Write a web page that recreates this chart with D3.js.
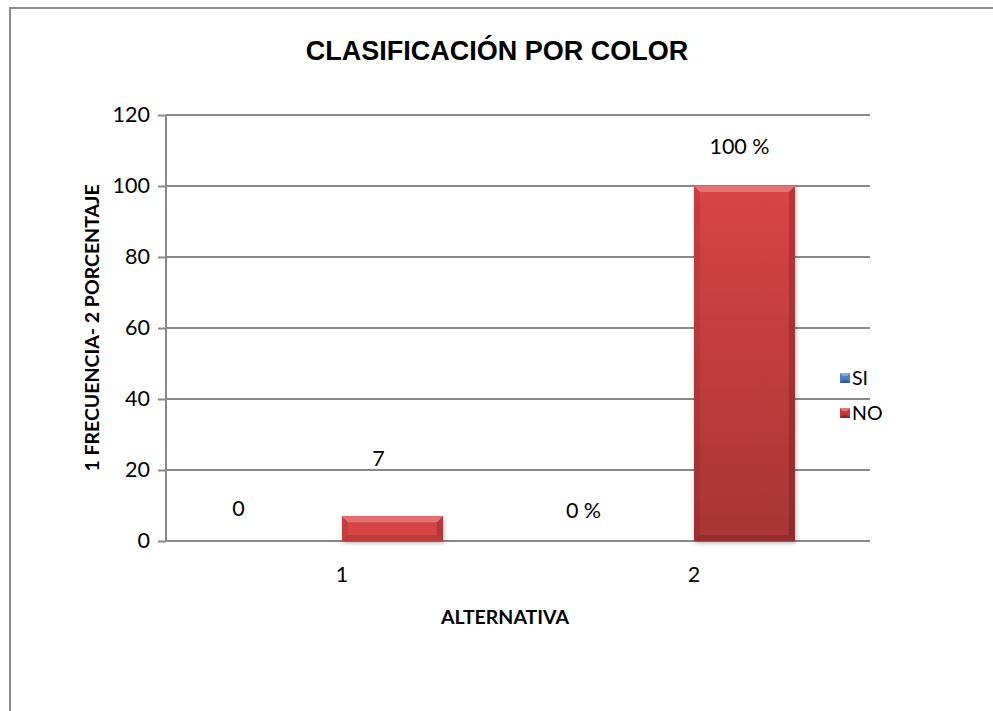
<!DOCTYPE html>
<html>
<head>
<meta charset="utf-8">
<script src="https://cdn.jsdelivr.net/npm/d3@7"></script>
<style>
  html, body { margin: 0; padding: 0; background: #fff; }
  svg { display: block; }
</style>
</head>
<body>
<svg id="chart" width="993" height="711"></svg>
<script>
// ---- data ----
const title = "CLASIFICACIÓN POR COLOR";
const categories = ["1", "2"];
const seriesNames = ["SI", "NO"];
const siValues = [0, 0];
const noValues = [7, 100];
const siLabels = ["0", "0 %"];
const noLabels = ["7", "100 %"];
const yTicks = [0, 20, 40, 60, 80, 100, 120];
const yTitle = "1 FRECUENCIA- 2 PORCENTAJE";
const xTitle = "ALTERNATIVA";

// ---- layout ----
const W = 993, H = 711;
const plot = { left: 166, right: 870, top: 115, bottom: 541 };
const labelFont = "Lato, 'Open Sans', sans-serif";

const svg = d3.select("#chart");
const defs = svg.append("defs");

// gradients
seriesNames.forEach(s => {
  const g = defs.append("linearGradient").attr("id", "grad-" + s)
    .attr("x1", 0).attr("y1", 0).attr("x2", 0).attr("y2", 1);
  g.append("stop").attr("offset", "0%").attr("stop-color", s === "NO" ? "#d94444" : "#5b8fd0");
  g.append("stop").attr("offset", "100%").attr("stop-color", s === "NO" ? "#a83535" : "#3f6ea8");
});
const shadow = defs.append("filter").attr("id", "shadow").attr("x", "-10%").attr("y", "-10%").attr("width", "130%").attr("height", "130%");
shadow.append("feDropShadow").attr("dx", 1).attr("dy", 2).attr("stdDeviation", 2).attr("flood-color", "#000").attr("flood-opacity", 0.3);

// outer border
svg.append("rect").attr("x", 10).attr("y", 8).attr("width", W + 20).attr("height", H + 20)
  .attr("fill", "none").attr("stroke", "#8a8a8a").attr("stroke-width", 2);

// title
svg.append("text").attr("x", 497).attr("y", 60).attr("text-anchor", "middle")
  .attr("font-family", "'Liberation Sans', Arial, sans-serif").attr("font-weight", "bold")
  .attr("font-size", 27).attr("fill", "#000").text(title);

// scales
const y = d3.scaleLinear().domain([0, 120]).range([plot.bottom, plot.top]);
const x0 = d3.scaleBand().domain(categories).range([plot.left, plot.right]).padding(0);
const x1 = d3.scaleBand().domain(seriesNames).range([0, x0.bandwidth()]).paddingInner(0).paddingOuter(0.743);

// gridlines + y axis
const yAxis = d3.axisLeft(y).tickValues(yTicks).tickSize(8).tickPadding(8);
const yg = svg.append("g").attr("transform", `translate(${plot.left},0)`).call(yAxis);
yg.select(".domain").remove();
yg.selectAll(".tick line").attr("stroke", "#898989").attr("stroke-width", 2);
yg.selectAll(".tick text").attr("font-family", labelFont).attr("font-size", 21.5).attr("fill", "#000");

svg.append("g").selectAll("line").data(yTicks).join("line")
  .attr("x1", plot.left).attr("x2", plot.right)
  .attr("y1", d => y(d)).attr("y2", d => y(d))
  .attr("stroke", "#898989").attr("stroke-width", 2);

svg.append("line").attr("x1", plot.left).attr("x2", plot.left)
  .attr("y1", plot.top).attr("y2", plot.bottom)
  .attr("stroke", "#898989").attr("stroke-width", 2);

// x axis labels
const xAxis = d3.axisBottom(x0).tickSize(0).tickPadding(26);
const xg = svg.append("g").attr("transform", `translate(0,${plot.bottom})`).call(xAxis);
xg.select(".domain").remove();
xg.selectAll(".tick text").attr("font-family", labelFont).attr("font-size", 21.5).attr("fill", "#000");

// bars with bevel
const rows = categories.map((c, i) => ({ cat: c, SI: siValues[i], NO: noValues[i], SIl: siLabels[i], NOl: noLabels[i] }));
const bevel = 6;
function drawBar(g, s, xPos, w, v) {
  const top = y(v), bot = y(0), h = bot - top;
  if (h <= 0.5) return;
  const b = Math.min(bevel, h / 3, w / 2);
  const gg = g.append("g");
  gg.append("rect").attr("x", xPos).attr("y", top).attr("width", w).attr("height", h)
    .attr("fill", `url(#grad-${s})`).attr("filter", "url(#shadow)");
  if (h < 60) {
    gg.append("rect").attr("x", xPos).attr("y", top).attr("width", w).attr("height", h)
      .attr("fill", "#d64545");
  }
  // top bevel (light)
  gg.append("path").attr("d", `M${xPos},${top} L${xPos + w},${top} L${xPos + w - b},${top + b} L${xPos + b},${top + b} Z`)
    .attr("fill", "#ffffff").attr("opacity", 0.25);
  // left bevel
  gg.append("path").attr("d", `M${xPos},${top} L${xPos + b},${top + b} L${xPos + b},${bot - b} L${xPos},${bot} Z`)
    .attr("fill", "#000").attr("opacity", 0.08);
  // right bevel
  gg.append("path").attr("d", `M${xPos + w},${top} L${xPos + w - b},${top + b} L${xPos + w - b},${bot - b} L${xPos + w},${bot} Z`)
    .attr("fill", "#000").attr("opacity", 0.16);
  // bottom bevel
  gg.append("path").attr("d", `M${xPos},${bot} L${xPos + b},${bot - b} L${xPos + w - b},${bot - b} L${xPos + w},${bot} Z`)
    .attr("fill", "#000").attr("opacity", 0.12);
}
const barsG = svg.append("g");
rows.forEach(r => {
  seriesNames.forEach(s => {
    drawBar(barsG, s, x0(r.cat) + x1(s), x1.bandwidth(), r[s]);
  });
});

// data labels (manually offset like the original)
const labelOffsets = { SI: [[-53, 25], [-60, 23]], NO: [[-14, 50], [-5, 32]] };
const lblG = svg.append("g").attr("font-family", labelFont).attr("font-size", 21.5).attr("fill", "#000").attr("text-anchor", "middle");
rows.forEach((r, i) => {
  seriesNames.forEach(s => {
    const cx = x0(r.cat) + x1(s) + x1.bandwidth() / 2 + labelOffsets[s][i][0];
    const cy = y(r[s]) - labelOffsets[s][i][1];
    lblG.append("text").attr("x", cx).attr("y", cy).text(r[s + "l"]);
  });
});

// axis titles
svg.append("text").attr("transform", `translate(99,328) rotate(-90)`).attr("text-anchor", "middle")
  .attr("font-family", labelFont).attr("font-weight", "bold").attr("font-size", 19.5).attr("fill", "#000").text(yTitle);
svg.append("text").attr("x", 505).attr("y", 624).attr("text-anchor", "middle")
  .attr("font-family", labelFont).attr("font-weight", "bold").attr("font-size", 19.5).attr("fill", "#000").text(xTitle);

// legend
const legend = svg.append("g").attr("transform", "translate(840,370)");
seriesNames.forEach((s, i) => {
  const g = legend.append("g").attr("transform", `translate(0,${i * 35})`);
  g.append("rect").attr("x", 0).attr("y", 3).attr("width", 10).attr("height", 10).attr("fill", `url(#grad-${s})`);
  g.append("path").attr("d", "M0,3 L10,3 L7,6 L3,6 Z").attr("fill", "#fff").attr("opacity", 0.3);
  g.append("path").attr("d", "M0,13 L10,13 L7,10 L3,10 Z").attr("fill", "#000").attr("opacity", 0.2);
  g.append("text").attr("x", 12).attr("y", 15).attr("font-family", labelFont).attr("font-size", 19.5).attr("fill", "#000").text(s);
});
</script>
</body>
</html>
